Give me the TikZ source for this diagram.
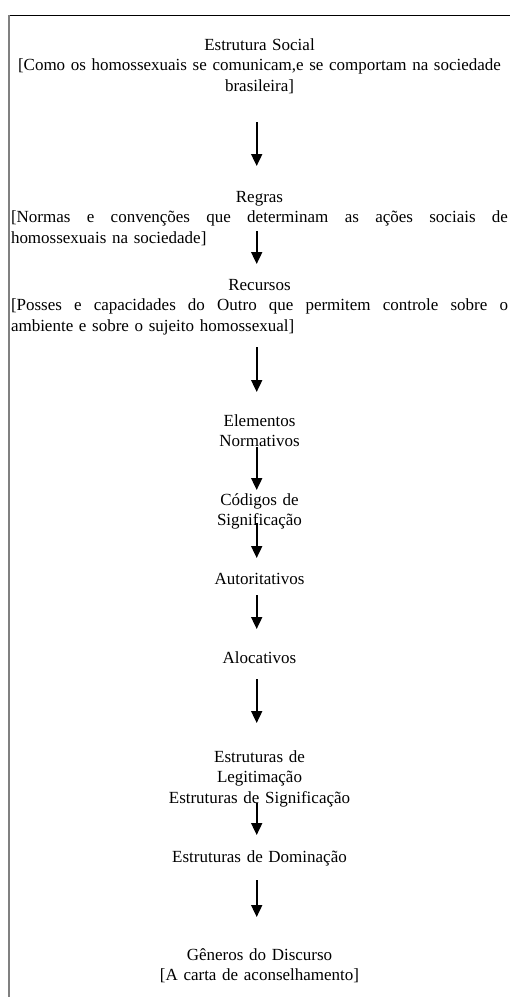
\documentclass[tikz,border=0pt]{standalone}
\usepackage{fontspec}
\setmainfont{Liberation Serif}
\usetikzlibrary{arrows.meta}
\newcommand{\fullline}[1]{\leavevmode\hbox to 497pt{\spaceskip=0pt\xspaceskip=0pt\relax #1}}
\begin{document}
\begin{tikzpicture}[x=1pt,y=-1pt,
  lbl/.style={font=\fontsize{17}{20.6}\selectfont, inner sep=0pt, anchor=base, align=center, text width=500pt},
  para/.style={font=\fontsize{17}{20.6}\selectfont, inner sep=0pt, anchor=base, align=left, text width=497pt},
  flow/.style={line width=1.8pt, -{Triangle[width=11pt,length=12pt]}}]
\useasboundingbox (0,0) rectangle (510,997);
\fill[white] (0,0) rectangle (510,997);
\draw[black, line width=0.9pt] (8,15) -- (510,15);
\draw[gray, line width=1.4pt] (9,15) -- (9,997);

\node[lbl] (soc) at (259.5,50) {Estrutura Social\\{[}Como os homossexuais se comunicam,e se comportam na sociedade\\brasileira]};
\node[para] (regras) at (259.5,202) {\makebox[497pt][c]{Regras}\\\fullline{{[}Normas e convenções que determinam as ações sociais de}\\homossexuais na sociedade]};
\node[para] (recursos) at (259.5,290) {\makebox[497pt][c]{Recursos}\\\fullline{{[}Posses e capacidades do Outro que permitem controle sobre o}\\ambiente e sobre o sujeito homossexual]};
\node[lbl] (elem) at (259.5,426) {Elementos\\Normativos};
\node[lbl] (cod) at (259.5,505) {Códigos de\\Significação};
\node[lbl] (aut) at (259.5,584) {Autoritativos};
\node[lbl] (aloc) at (259.5,663) {Alocativos};
\node[lbl] (leg) at (259.5,762) {Estruturas de\\Legitimação\\Estruturas de Significação};
\node[lbl] (dom) at (259.5,862) {Estruturas de Dominação};
\node[lbl] (gen) at (259.5,960) {Gêneros do Discurso\\{[}A carta de aconselhamento]};

\coordinate (a1s) at (256.7,122); \coordinate (a1e) at (256.7,166);
\coordinate (a2s) at (256.7,231); \coordinate (a2e) at (256.7,264);
\coordinate (a3s) at (256.7,347); \coordinate (a3e) at (256.7,392);
\coordinate (a4s) at (256.7,447); \coordinate (a4e) at (256.7,490);
\coordinate (a5s) at (256.7,523); \coordinate (a5e) at (256.7,558);
\coordinate (a6s) at (256.7,595); \coordinate (a6e) at (256.7,629);
\coordinate (a7s) at (256.7,679); \coordinate (a7e) at (256.7,723);
\coordinate (a8s) at (256.7,803); \coordinate (a8e) at (256.7,835);
\coordinate (a9s) at (256.7,880); \coordinate (a9e) at (256.7,917);
\foreach \i in {1,...,9} \draw[flow] (a\i s) -- (a\i e);
\end{tikzpicture}
\end{document}
